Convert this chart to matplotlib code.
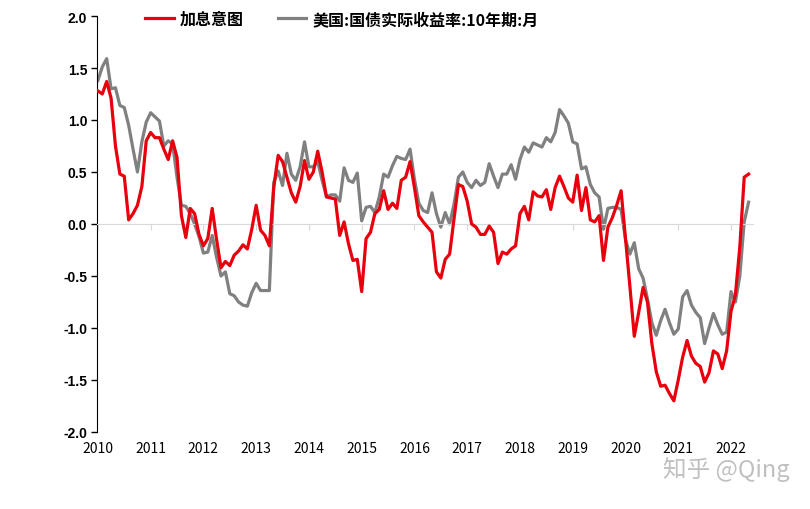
import numpy as np
import matplotlib
matplotlib.use('Agg')
import matplotlib.pyplot as plt

plt.rcParams['font.family'] = ['Noto Sans CJK SC', 'DejaVu Sans']

# monthly values, 2010-01 .. 2022-05
red = [1.28, 1.25, 1.37, 1.21, 0.75, 0.48, 0.46, 0.04, 0.10, 0.18, 0.36, 0.80,
       0.88, 0.83, 0.83, 0.72, 0.62, 0.80, 0.64, 0.08, -0.13, 0.15, 0.10, -0.10,
       -0.21, -0.14, 0.15, -0.15, -0.42, -0.36, -0.40, -0.30, -0.26, -0.20, -0.24, -0.05,
       0.18, -0.06, -0.11, -0.21, 0.35, 0.66, 0.60, 0.45, 0.30, 0.21, 0.36, 0.61,
       0.43, 0.50, 0.70, 0.50, 0.26, 0.25, 0.24, -0.11, 0.02, -0.19, -0.35, -0.34,
       -0.65, -0.14, -0.08, 0.10, 0.14, 0.32, 0.14, 0.20, 0.15, 0.42, 0.45, 0.60,
       0.35, 0.08, 0.02, -0.03, -0.08, -0.46, -0.52, -0.34, -0.29, 0.05, 0.38, 0.36,
       0.22, 0.00, -0.03, -0.10, -0.10, -0.02, -0.08, -0.38, -0.27, -0.29, -0.24, -0.21,
       0.10, 0.17, 0.04, 0.31, 0.27, 0.26, 0.33, 0.14, 0.35, 0.46, 0.36, 0.25,
       0.21, 0.47, 0.13, 0.35, 0.04, 0.02, 0.08, -0.35, -0.03, 0.06, 0.18, 0.32,
       -0.14, -0.60, -1.08, -0.85, -0.61, -0.75, -1.15, -1.42, -1.56, -1.55, -1.63, -1.70,
       -1.50, -1.28, -1.12, -1.27, -1.34, -1.37, -1.52, -1.43, -1.22, -1.25, -1.39, -1.22,
       -0.84, -0.68, -0.22, 0.45, 0.48]

gray = [1.38, 1.51, 1.59, 1.30, 1.31, 1.14, 1.12, 0.95, 0.72, 0.50, 0.79, 0.98,
        1.07, 1.03, 0.99, 0.75, 0.80, 0.77, 0.45, 0.18, 0.17, 0.10, 0.00, -0.12,
        -0.28, -0.27, -0.11, -0.32, -0.50, -0.46, -0.67, -0.69, -0.75, -0.78, -0.79, -0.66,
        -0.57, -0.64, -0.64, -0.64, 0.40, 0.51, 0.37, 0.68, 0.48, 0.42, 0.55, 0.79,
        0.55, 0.55, 0.60, 0.42, 0.26, 0.28, 0.28, 0.22, 0.54, 0.42, 0.40, 0.49,
        0.03, 0.16, 0.17, 0.11, 0.26, 0.48, 0.45, 0.56, 0.65, 0.63, 0.62, 0.72,
        0.43, 0.20, 0.13, 0.11, 0.30, 0.10, -0.03, 0.11, 0.00, 0.19, 0.45, 0.50,
        0.40, 0.35, 0.42, 0.37, 0.40, 0.58, 0.46, 0.35, 0.48, 0.48, 0.57, 0.43,
        0.62, 0.74, 0.69, 0.78, 0.76, 0.74, 0.83, 0.79, 0.88, 1.10, 1.04, 0.97,
        0.79, 0.77, 0.53, 0.55, 0.38, 0.30, 0.26, -0.05, 0.15, 0.16, 0.16, 0.14,
        -0.15, -0.29, -0.18, -0.43, -0.52, -0.72, -0.95, -1.07, -0.93, -0.82, -0.95, -1.06,
        -1.01, -0.70, -0.64, -0.78, -0.85, -0.90, -1.15, -1.00, -0.86, -0.97, -1.06, -1.04,
        -0.65, -0.75, -0.50, 0.02, 0.21]

years = list(range(2010, 2023))
red_label = '加息意图'
gray_label = '美国:国债实际收益率:10年期:月'

months = np.arange(len(red))

fig = plt.figure(figsize=(8.1, 5.1), dpi=100)
ax = fig.add_axes([97 / 810, 77 / 510, 656 / 810, 416 / 510])

ax.plot(months, red, color='#e8000d', lw=2.3, label=red_label, zorder=3)
ax.plot(months, gray, color='#808080', lw=2.3, label=gray_label, zorder=2)

ax.set_xlim(-0.2, 149)
ax.set_ylim(-2.0, 2.0)

ax.set_yticks(np.arange(-2.0, 2.01, 0.5))
ax.set_yticklabels(['%.1f' % v for v in np.arange(-2.0, 2.01, 0.5)],
                   fontweight='bold', fontsize=10, family=['Liberation Sans', 'DejaVu Sans'])
ax.tick_params(axis='y', direction='out', length=4, width=1, color='black', pad=3)

ax.set_xticks([12 * (y - 2010) for y in years])
ax.set_xticklabels([str(y) for y in years], fontweight='bold', fontsize=10,
                   family=['Liberation Sans', 'DejaVu Sans'])
ax.spines['bottom'].set_position(('data', 0))
ax.spines['bottom'].set_color('#d9d9d9')
ax.tick_params(axis='x', direction='out', length=4, color='#d9d9d9',
               labelcolor='black', pad=152)
for s in ['top', 'right']:
    ax.spines[s].set_visible(False)
ax.spines['left'].set_color('black')

fig.legend(loc='upper left', bbox_to_anchor=(145 / 810, 1 - 12 / 510), ncol=2,
           frameon=False, handlelength=1.8, handletextpad=0.4, columnspacing=2.1,
           borderpad=0, borderaxespad=0,
           prop={'weight': 'bold', 'size': 11.5})

fig.text(0.975, 0.055, '知乎 @Qing', ha='right', va='bottom', fontsize=17,
         color='#c0c0c0')

fig.savefig('out.png', dpi=100)
